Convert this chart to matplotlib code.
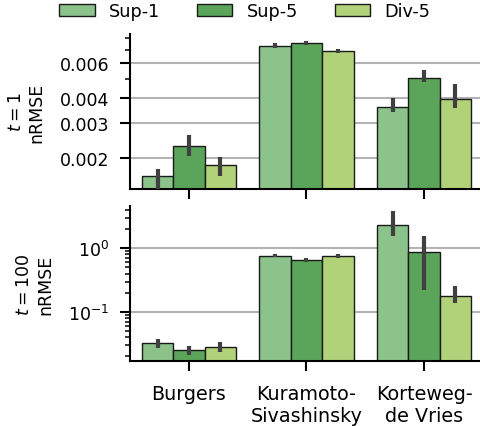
import numpy as np
import matplotlib
matplotlib.use("Agg")
import matplotlib.pyplot as plt
from matplotlib.ticker import FixedLocator, NullFormatter, LogLocator, LogFormatterSciNotation, FormatStrFormatter

datasets = ["Burgers", "Kuramoto-\nSivashinsky", "Korteweg-\nde Vries"]
methods = ["Sup-1", "Sup-5", "Div-5"]
colors = ["#8bc38a", "#5aa55a", "#b1d279"]

# nRMSE at t = 1: mean, lower CI, upper CI (rows: methods, cols: datasets)
t1_mean = [[0.00162, 0.00736, 0.00362],
           [0.00230, 0.00759, 0.00508],
           [0.00184, 0.00694, 0.00397]]
t1_lo = [[0.00140, 0.00716, 0.00343],
         [0.00204, 0.00740, 0.00481],
         [0.00162, 0.00675, 0.00357]]
t1_hi = [[0.00177, 0.00759, 0.00401],
         [0.00262, 0.00781, 0.00556],
         [0.00202, 0.00708, 0.00471]]

# nRMSE at t = 100
t100_mean = [[0.0323, 0.765, 2.30],
             [0.0251, 0.655, 0.885],
             [0.0279, 0.749, 0.176]]
t100_lo = [[0.0272, 0.720, 1.56],
           [0.0210, 0.620, 0.224],
           [0.0232, 0.705, 0.138]]
t100_hi = [[0.0373, 0.815, 3.89],
           [0.0295, 0.700, 1.54],
           [0.0335, 0.800, 0.256]]

plt.rcParams["font.family"] = "DejaVu Sans"
plt.rcParams["font.size"] = 12.5

fig = plt.figure(figsize=(4.8, 4.27), dpi=100)
ax1 = fig.add_axes([0.271, 0.554, 0.735, 0.364])
ax2 = fig.add_axes([0.271, 0.1515, 0.735, 0.3645])

x = np.arange(len(datasets))
width = 0.8 / 3


def draw(ax, mean, lo, hi):
    ax.set_yscale("log")
    for i, m in enumerate(methods):
        pos = x - 0.8 / 2 + width * (i + 0.5)
        ax.bar(pos, mean[i], width, color=colors[i], edgecolor="#1a1a1a",
               linewidth=1.0, label=m, zorder=2)
        ax.vlines(pos, lo[i], hi[i], color="#404040", lw=3.0, zorder=3)
    ax.set_xlim(-0.5, 2.5)
    ax.set_axisbelow(True)
    ax.grid(axis="y", which="major", color="#b3b3b3", lw=1.5, zorder=0)
    ax.grid(axis="x", visible=False)
    for s in ["top", "right"]:
        ax.spines[s].set_visible(False)
    for s in ["left", "bottom"]:
        ax.spines[s].set_linewidth(1.5)
    ax.tick_params(which="major", length=7, width=1.5, labelsize=12.5)
    ax.tick_params(axis="y", which="major", pad=8)
    ax.tick_params(which="minor", length=3.8, width=1.1)
    ax.set_xticks(x)


draw(ax1, t1_mean, t1_lo, t1_hi)
ax1.set_ylim(0.00139, 0.00842)
ax1.yaxis.set_major_locator(FixedLocator([0.002, 0.003, 0.004, 0.006]))
ax1.yaxis.set_major_formatter(FormatStrFormatter("%.3f"))
ax1.yaxis.set_minor_locator(FixedLocator([0.005, 0.007, 0.008]))
ax1.yaxis.set_minor_formatter(NullFormatter())
ax1.set_xticklabels([])
ax1.set_ylabel("$t = 1$\nnRMSE", fontsize=12.5, labelpad=10)

draw(ax2, t100_mean, t100_lo, t100_hi)
ax2.set_ylim(0.0168, 4.67)
ax2.yaxis.set_major_locator(LogLocator(base=10, numticks=10))
ax2.yaxis.set_major_formatter(LogFormatterSciNotation())
ax2.yaxis.set_minor_locator(LogLocator(base=10, subs=np.arange(2, 10), numticks=20))
ax2.yaxis.set_minor_formatter(NullFormatter())
ax2.set_xticklabels(datasets, fontsize=13.8)
ax2.tick_params(axis="x", pad=9)
ax2.set_ylabel("$t = 100$\nnRMSE", fontsize=12.5, labelpad=10)

fig.align_ylabels([ax1, ax2])

handles, labels = ax1.get_legend_handles_labels()
fig.legend(handles, labels, loc="center", bbox_to_anchor=(0.51, 0.972), ncol=3,
           frameon=False, fontsize=12.7, columnspacing=2.1, handlelength=2.0)

fig.savefig("out.png", dpi=100)
